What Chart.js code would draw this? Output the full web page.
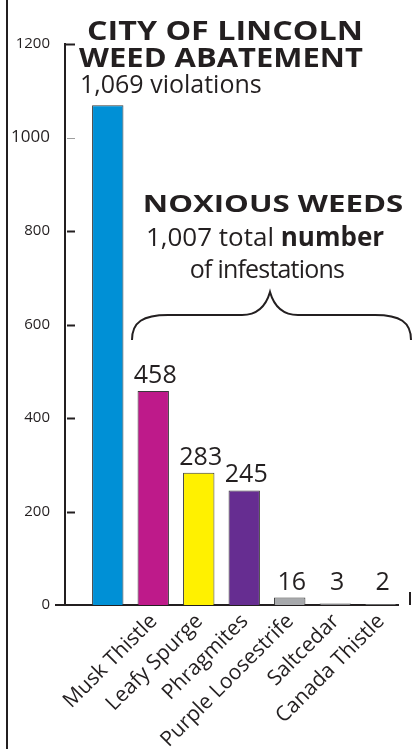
<!DOCTYPE html>
<html>
<head>
<meta charset="utf-8">
<script src="https://cdn.jsdelivr.net/npm/chart.js@4.4.1/dist/chart.umd.min.js"></script>
<style>
	body { margin: 0; background: #fff; }
	#wrap { position: relative; width: 415px; height: 749px; overflow: hidden; }
	#chartWeeds { position: absolute; left: 0; top: 0; }
	#edge { position: absolute; left: 6px; top: 0; height: 749px; border-left: 2px solid #231f20; }
	.note { position: absolute; white-space: nowrap; color: #231f20; font-family: "Open Sans", sans-serif; line-height: 1; }
	.mid { transform: translateX(-50%); }
	.heavy { font-weight: 700; }
</style>
</head>
<body>
<div id="wrap">
	<canvas id="chartWeeds" width="415" height="749"></canvas>
	<div id="edge"></div>
	<div class="note heavy" style="left:225px; top:17px; font-size:26px; transform:translateX(-50%) scaleX(1.24);">CITY OF LINCOLN</div>
	<div class="note heavy" style="left:221px; top:44px; font-size:26px; transform:translateX(-50%) scaleX(1.19);">WEED ABATEMENT</div>
	<div class="note" style="left:80px; top:71px; font-size:25px;">1,069 violations</div>
	<div class="note heavy" style="left:273px; top:191px; font-size:24px; transform:translateX(-50%) scaleX(1.3);">NOXIOUS WEEDS</div>
	<div class="note mid" style="left:265px; top:223px; font-size:26px;">1,007 total <b>number</b></div>
	<div class="note mid" style="left:267px; top:256px; font-size:25px; letter-spacing:-0.8px;">of infestations</div>
</div>
<script>
	let categories = ["Musk Thistle", "Leafy Spurge", "Phragmites", "Purple Loosestrife", "Saltcedar", "Canada Thistle"];
	let weedValues = [1069, 458, 283, 245, 16, 3, 2];
	let weedColors = ["#0090d6", "#be1a8a", "#fff100", "#662d91", "#a7a9ac", "#a7a9ac", "#a7a9ac"];
	let yTickValues = [0, 200, 400, 600, 800, 1000, 1200];

	let ink = "#231f20";

	let weedMarks = {
		id: "weedMarks",
		afterDatasetsDraw: function( chart ) {
			let ctx = chart.ctx;
			let area = chart.chartArea;
			let yScale = chart.scales.y;
			let y0 = yScale.getPixelForValue(0);

			ctx.save();

			// inside tick dashes on the value axis
			yTickValues.forEach( function( v ) {
				if( v === 0 ) return;
				let py = Math.round(yScale.getPixelForValue(v)) + 0.5;
				ctx.strokeStyle = v === 1000 ? "#9d9d9d" : ink;
				ctx.lineWidth = v === 1000 ? 1 : 2;
				ctx.beginPath();
				ctx.moveTo(area.left + (v === 1200 ? 0 : 2), py);
				ctx.lineTo(area.left + 10, py);
				ctx.stroke();
			});

			// base line runs a little left of the axis, and a stray mark at the right
			ctx.strokeStyle = ink;
			ctx.lineWidth = 2;
			ctx.beginPath();
			ctx.moveTo(area.left - 10, y0);
			ctx.lineTo(area.left, y0);
			ctx.moveTo(area.right + 12, y0 - 13);
			ctx.lineTo(area.right + 12, y0);
			ctx.stroke();

			// brace over the noxious weeds
			ctx.beginPath();
			ctx.moveTo(132, 340);
			ctx.bezierCurveTo(132, 322, 143, 315, 168, 315);
			ctx.lineTo(242, 315);
			ctx.bezierCurveTo(258, 315, 266, 306, 270, 292);
			ctx.bezierCurveTo(274, 306, 282, 315, 298, 315);
			ctx.lineTo(375, 315);
			ctx.bezierCurveTo(400, 315, 411, 322, 411, 340);
			ctx.stroke();

			// value labels above the noxious weed bars
			let meta = chart.getDatasetMeta(0);
			let floor = yScale.getPixelForValue(16);
			ctx.fillStyle = ink;
			ctx.font = "25px 'Open Sans', sans-serif";
			ctx.textAlign = "center";
			ctx.textBaseline = "alphabetic";
			meta.data.forEach( function( bar, i ) {
				if( i === 0 ) return;
				ctx.fillText(String(weedValues[i]), bar.x + 2, Math.min(bar.y, floor) - 8);
			});
			ctx.restore();
		}
	};

	let ctx = document.getElementById("chartWeeds");

	let dataWeeds = {
		datasets: [{
			data: weedValues.map( function( v, i ) { return { x: i, y: v }; } ),
			backgroundColor: weedColors,
			borderColor: "#3a3a3a",
			borderWidth: 1,
			barPercentage: 0.69,
			categoryPercentage: 1
		}]
	};

	let optionsWeeds = {
		responsive: false,
		animation: false,
		layout: {
			padding: { top: 44, right: 17, left: 0, bottom: 0 }
		},
		plugins: {
			legend: { display: false },
			tooltip: { enabled: false }
		},
		scales: {
			x: {
				type: "linear",
				offset: false,
				min: -0.94,
				max: 6.38,
				grid: { display: false, drawTicks: false },
				border: { display: true, color: ink, width: 2 },
				afterBuildTicks: function( scale ) {
					scale.ticks = categories.map( function( c, i ) { return { value: i }; } );
				},
				afterFit: function( scale ) {
					scale.height = 144;
					scale.paddingLeft = 0;
					scale.paddingRight = 0;
				},
				ticks: {
					autoSkip: false,
					minRotation: 45,
					maxRotation: 45,
					labelOffset: 46,
					padding: 4,
					color: ink,
					font: { family: "'Open Sans', sans-serif", size: 21 },
					callback: function( v ) { return categories[v]; }
				}
			},
			y: {
				min: 0,
				max: 1200,
				grid: { display: false, drawTicks: false },
				border: { display: true, color: ink, width: 2 },
				afterBuildTicks: function( scale ) {
					scale.ticks = yTickValues.map( function( v ) { return { value: v }; } );
				},
				afterFit: function( scale ) {
					scale.width = 65;
					scale.paddingTop = 0;
					scale.paddingBottom = 0;
				},
				ticks: {
					padding: 15,
					color: ink,
					font: function( c ) {
						return { family: "'Open Sans', sans-serif", size: c.tick && c.tick.value === 1000 ? 17 : 15 };
					},
					callback: function( v ) { return String(v); }
				}
			}
		}
	};

	let myWeedsChart = new Chart(ctx, {
		type: "bar",
		data: dataWeeds,
		options: optionsWeeds,
		plugins: [weedMarks]
	});
</script>
</body>
</html>
